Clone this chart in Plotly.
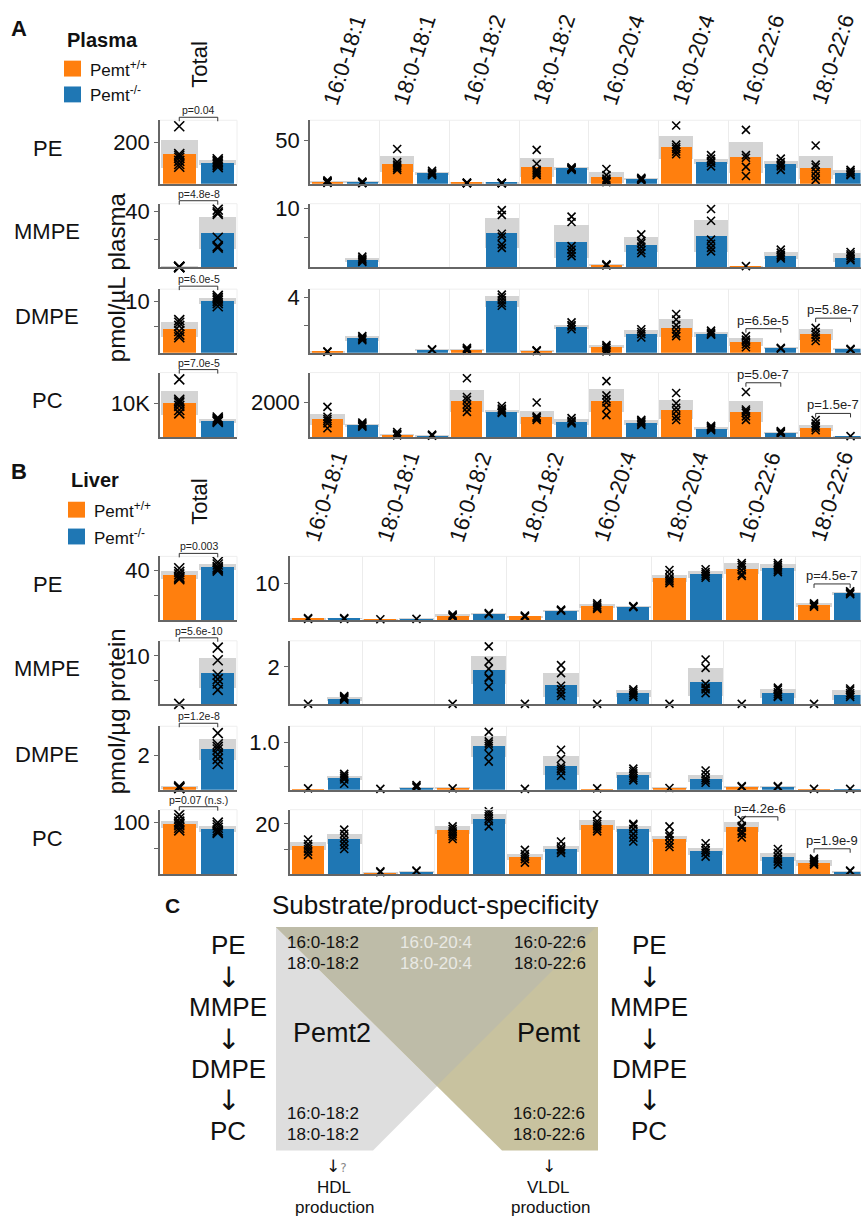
import plotly.graph_objects as go

W, H = 861, 1218
FONT = "Liberation Sans, Arial, Helvetica, sans-serif"
NARROW = "Liberation Sans Narrow, Liberation Sans, Arial, sans-serif"
ARROWFONT = "DejaVu Sans, sans-serif"
ORANGE, BLUE, SDGRAY = "#ff7f0e", "#1f77b4", "#d4d4d4"
AXIS = "#666666"

# ---------------- data ----------------
SPECIES = ["16:0-18:1", "18:0-18:1", "16:0-18:2", "18:0-18:2",
           "16:0-20:4", "18:0-20:4", "16:0-22:6", "18:0-22:6"]
LIPIDS = ["PE", "MMPE", "DMPE", "PC"]
GENOTYPES = ["Pemt<sup>+/+</sup>", "Pemt<sup>-/-</sup>"]

# ---- Panel A: plasma (pmol/uL) ----
A_PE_TOT_MEAN = [144, 101]
A_PE_TOT_SD = [67, 12]
A_PE_TOT_PTS = [[276, 143, 135, 125, 110, 95, 82], [118, 110, 104, 97, 90, 80]]
A_PE_WT_MEAN = [2.3, 22.5, 1.0, 18.7, 7.2, 41.5, 30, 18.3]
A_PE_WT_SD = [1.0, 9.2, 0.5, 11, 6.1, 13, 18, 13.4]
A_PE_KO_MEAN = [1.5, 11.8, 0.8, 17.5, 5.3, 25, 22, 12.6]
A_PE_KO_SD = [0.5, 1.9, 0.3, 1.0, 0.8, 3, 4, 3]
A_PE_WT_PTS = [[4, 3, 2.5, 2, 1.5, 1], [40, 25, 22, 20, 18, 16], [1.5, 1.2, 1, 0.8, 0.6],
               [39, 23, 16, 14, 12, 10], [17, 10, 6, 4, 3, 2], [67, 45, 42, 40, 37, 34],
               [62, 33, 30, 19.5, 9], [44, 22, 19, 14, 9, 4.6]]
A_PE_KO_PTS = [[2.5, 2, 1.5, 1, 0.8], [15, 13, 12, 11, 10], [1.2, 1, 0.8, 0.6],
               [19, 18, 17.5, 17, 16], [7, 6, 5.5, 5, 4], [33, 29, 26, 24, 20],
               [29, 25, 22, 20, 16], [16, 14, 13, 11, 10]]

A_MMPE_TOT_MEAN = [0.3, 24.7]
A_MMPE_TOT_SD = [0.2, 11.3]
A_MMPE_TOT_PTS = [[0.5, 0.3, 0.2, 0.1, 0], [41, 39, 38, 21, 15, 14]]
A_MMPE_WT_MEAN = [0, 0, 0, 0, 0.4, 0, 0.2, 0]
A_MMPE_WT_SD = [0, 0, 0, 0, 0.1, 0, 0.05, 0]
A_MMPE_KO_MEAN = [1.3, 0, 5.9, 4.4, 3.9, 5.4, 2.0, 1.7]
A_MMPE_KO_SD = [0.4, 0, 2.6, 2.8, 1.3, 2.7, 0.6, 0.7]
A_MMPE_WT_PTS = [[], [], [], [], [0.5, 0.4, 0.3], [], [0.2], []]
A_MMPE_KO_PTS = [[1.8, 1.5, 1.3, 1.1, 0.9], [], [9.7, 8.9, 5.7, 5.2, 3.9, 3.3],
                 [8.6, 7.7, 3.6, 3.0, 2.4, 1.9], [5.6, 4.5, 4.1, 3.5, 2.9, 2.4],
                 [9.9, 7.9, 4.7, 4.0, 3.3, 2.7], [3.0, 2.5, 2.1, 1.8, 1.5],
                 [2.6, 2.2, 1.9, 1.5, 1.2]]

A_DMPE_TOT_MEAN = [4.5, 10.0]
A_DMPE_TOT_SD = [1.5, 0.6]
A_DMPE_TOT_PTS = [[6.3, 5.8, 5.2, 4.2, 3.5, 3.0], [11.0, 10.6, 10.3, 10.0, 9.6, 9.0]]
A_DMPE_WT_MEAN = [0.05, 0, 0.19, 0.14, 0.43, 1.79, 0.74, 1.31]
A_DMPE_WT_SD = [0.02, 0, 0.1, 0.03, 0.12, 0.66, 0.29, 0.43]
A_DMPE_KO_MEAN = [1.03, 0.19, 3.7, 1.86, 1.38, 1.31, 0.31, 0.24]
A_DMPE_KO_SD = [0.16, 0.03, 0.4, 0.17, 0.24, 0.19, 0.03, 0.03]
A_DMPE_WT_PTS = [[0.1, 0.05], [], [0.35, 0.25, 0.2, 0.15], [0.18, 0.14, 0.12],
                 [0.55, 0.45, 0.35, 0.2, 0.1], [2.8, 2.4, 2.0, 1.7, 1.4, 1.2],
                 [1.2, 0.95, 0.8, 0.6, 0.4], [1.8, 1.5, 1.3, 1.1, 0.85]]
A_DMPE_KO_PTS = [[1.2, 1.1, 1.0, 0.9], [0.25, 0.2], [4.2, 4.0, 3.8, 3.6, 3.4],
                 [2.2, 2.0, 1.9, 1.7], [1.7, 1.5, 1.35, 1.1], [1.6, 1.45, 1.35, 1.3],
                 [0.35, 0.3], [0.28, 0.22]]

A_PC_TOT_MEAN = [10200, 4900]
A_PC_TOT_SD = [3500, 700]
A_PC_TOT_PTS = [[17000, 11000, 10500, 10000, 9200, 8000, 7000], [5800, 5400, 5000, 4700, 4500]]
A_PC_WT_MEAN = [1046, 171, 2131, 1177, 2131, 1617, 1503, 549]
A_PC_WT_SD = [325, 60, 630, 366, 670, 554, 590, 194]
A_PC_KO_MEAN = [703, 114, 1503, 891, 857, 514, 286, 70]
A_PC_KO_SD = [57, 30, 97, 155, 132, 92, 40, 15]
A_PC_WT_PTS = [[1750, 1177, 1050, 950, 800, 514], [300, 200, 150, 100],
               [3406, 2320, 2150, 1900, 1700, 1463], [2000, 1200, 1150, 1100, 1000],
               [3234, 2417, 2200, 2000, 1700, 1277], [2549, 1960, 1700, 1500, 1200, 989],
               [2606, 1600, 1500, 1400, 1200, 1000], [989, 800, 650, 550, 400]]
A_PC_KO_PTS = [[850, 780, 720, 650, 600], [150, 110, 80], [1800, 1650, 1550, 1450, 1400],
               [1100, 950, 880, 800], [1000, 920, 860, 780, 700], [650, 580, 520, 450, 400],
               [350, 300, 250, 200], [60]]

A_TOT_P = ["p=0.04", "p=4.8e-8", "p=6.0e-5", "p=7.0e-5"]
# (row, species index, label, bracket level in data units)
A_SP_P = [(2, 6, "p=6.5e-5", 1.74), (2, 7, "p=5.8e-7", 2.5),
          (3, 6, "p=5.0e-7", 3143), (3, 7, "p=1.5e-7", 1371)]

# ---- Panel B: liver (pmol/ug protein) ----
B_PE_TOT_MEAN = [36.3, 42.7]
B_PE_TOT_SD = [3.2, 2.8]
B_PE_TOT_PTS = [[42, 39, 37, 35, 34, 33], [47, 45, 43, 42, 41, 40]]
B_PE_WT_MEAN = [0.2, 0.1, 1.0, 0.9, 3.7, 11.2, 13.9, 3.9]
B_PE_WT_SD = [0.1, 0.05, 0.4, 0.2, 0.6, 0.9, 1.5, 0.6]
B_PE_KO_MEAN = [0.3, 0.15, 1.45, 2.4, 3.45, 12.3, 14.1, 7.1]
B_PE_KO_SD = [0.1, 0.05, 0.2, 0.15, 0.3, 0.9, 0.9, 0.4]
B_PE_WT_PTS = [[0.5, 0.3], [0.2], [1.5, 1.2, 1.0, 0.8], [1.2, 1.0, 0.8],
               [4.5, 4.0, 3.6, 3.2, 3.0], [13.6, 12.5, 11.5, 11, 10.5, 10],
               [15.5, 15, 14.4, 13.5, 12.5, 12], [4.5, 4.2, 3.9, 3.6]]
B_PE_KO_PTS = [[0.5, 0.3], [0.3], [1.9, 1.6], [2.8, 2.6, 2.5], [3.8, 3.6, 3.5],
               [13.8, 13, 12.5, 12, 11.5], [15.5, 15, 14.5, 14, 13.5, 13], [7.8, 7.5, 7.2, 7.0]]

B_MMPE_TOT_MEAN = [0, 6.5]
B_MMPE_TOT_SD = [0, 3.1]
B_MMPE_TOT_PTS = [[0.1], [11.7, 9.1, 6.1, 5.2, 4.3, 3.0]]
B_MMPE_WT_MEAN = [0, 0, 0, 0, 0, 0, 0, 0]
B_MMPE_WT_SD = [0, 0, 0, 0, 0, 0, 0, 0]
B_MMPE_KO_MEAN = [0.3, 0, 1.85, 1.05, 0.6, 1.2, 0.6, 0.53]
B_MMPE_KO_SD = [0.1, 0, 0.75, 0.62, 0.2, 0.75, 0.25, 0.27]
B_MMPE_WT_PTS = [[0.03], [], [0.03], [0.03], [0.03], [0.03], [0.03], [0.03]]
B_MMPE_KO_PTS = [[0.45, 0.4, 0.35, 0.3, 0.25], [], [3.1, 2.3, 1.9, 1.45, 1.4, 0.95],
                 [2.1, 1.67, 1.0, 0.8, 0.6, 0.45], [0.8, 0.7, 0.6, 0.5, 0.4],
                 [2.4, 1.95, 1.1, 0.9, 0.8, 0.6], [0.9, 0.8, 0.65, 0.55, 0.45, 0.4],
                 [0.85, 0.75, 0.6, 0.5, 0.4]]

B_DMPE_TOT_MEAN = [0.14, 2.35]
B_DMPE_TOT_SD = [0.05, 0.6]
B_DMPE_TOT_PTS = [[0.2, 0.15, 0.12, 0.1], [3.3, 2.65, 2.5, 2.35, 2.06, 1.8, 1.5]]
B_DMPE_WT_MEAN = [0.01, 0.0, 0.03, 0.0, 0.01, 0.03, 0.056, 0.01]
B_DMPE_WT_SD = [0, 0, 0.01, 0, 0, 0.01, 0.02, 0]
B_DMPE_KO_MEAN = [0.245, 0.04, 0.92, 0.51, 0.31, 0.23, 0.056, 0.01]
B_DMPE_KO_SD = [0.045, 0.01, 0.22, 0.21, 0.07, 0.07, 0.01, 0]
B_DMPE_WT_PTS = [[0.03], [0.02], [0.03], [0.02], [0.03], [0.04], [0.08, 0.06], [0.02]]
B_DMPE_KO_PTS = [[0.34, 0.3, 0.26, 0.22, 0.13], [0.1, 0.07, 0.05],
                 [1.23, 1.03, 0.98, 0.93, 0.76, 0.6], [0.85, 0.66, 0.5, 0.45, 0.4, 0.3],
                 [0.45, 0.4, 0.35, 0.3, 0.25, 0.2], [0.41, 0.33, 0.25, 0.2, 0.15],
                 [0.08, 0.06], [0.02]]

B_PC_TOT_MEAN = [97, 88]
B_PC_TOT_SD = [6, 6]
B_PC_TOT_PTS = [[115, 108, 102, 98, 95, 90, 85], [100, 95, 90, 85, 82, 80]]
B_PC_WT_MEAN = [11.2, 0.8, 17.7, 6.9, 19.5, 14.2, 18.9, 4.6]
B_PC_WT_SD = [1.6, 0.2, 1.5, 1.3, 2.0, 1.2, 1.9, 1.1]
B_PC_KO_MEAN = [14.2, 1.2, 22, 10.3, 18, 9.2, 6.9, 1.1]
B_PC_KO_SD = [2.0, 0.2, 2.0, 1.2, 1.2, 1.3, 1.6, 0.2]
B_PC_WT_PTS = [[13.8, 12, 11, 10, 9, 7.7], [1.2, 0.8], [19, 18, 17, 16, 15, 14],
               [9.7, 8, 7, 6, 4.6], [23.5, 21, 20, 19, 18, 17], [19, 16, 15, 13.5, 12, 10.8],
               [21.5, 19.2, 18.5, 17, 16, 14.6], [6.2, 5.5, 4.8, 4.2, 3.8]]
B_PC_KO_PTS = [[17.7, 16, 14.5, 13, 11.5, 10], [1.5, 1.2], [25, 24, 23, 22, 21, 19],
               [13, 11, 10, 9.5, 8.5], [20, 19.5, 18, 16, 14.5, 13], [12.3, 10.5, 9.5, 8.5, 7],
               [10, 8.5, 7, 6, 5, 3.8], [1.5, 1.2]]

B_TOT_P = ["p=0.003", "p=5.6e-10", "p=1.2e-8", "p=0.07 (n.s.)"]
B_SP_P = [(0, 7, "p=4.5e-7", 9.8), (3, 6, "p=4.2e-6", 22.8), (3, 7, "p=1.9e-9", 10.1)]

# ---------------- axis settings ----------------
A_TOT_YMAX = [305, 45.2, 12.3, 19000]
A_TOT_TICKS = [([200], ["200"]), ([20, 40], ["", "40"]), ([5, 10], ["", "10"]), ([10000], ["10K"])]
A_SP_YMAX = [73, 10.8, 4.6, 3730]
A_SP_TICKS = [([50], ["50"]), ([5, 10], ["", "10"]), ([2, 4], ["", "4"]), ([2000], ["2000"])]
B_TOT_YMAX = [51.6, 13.1, 3.7, 125]
B_TOT_TICKS = [([20, 40], ["", "40"]), ([5, 10], ["", "10"]), ([2], ["2"]), ([50, 100], ["", "100"])]
B_SP_YMAX = [17.3, 3.4, 1.35, 25.6]
B_SP_TICKS = [([10], ["10"]), ([2], ["2"]), ([0.5, 1.0], ["", "1.0"]), ([10, 20], ["", "20"])]

# ---------------- geometry (pixels) ----------------
A_ROWS_PX = [(113, 177), (197, 261), (283, 347), (367, 432)]
B_ROWS_PX = [(552, 616), (637, 701), (723, 787), (807, 872)]
TOT_X_PX = (160, 237)
A_SP_X_PX = (310, 861)
B_SP_X_PX = (290, 861)
SP_XMAX = 7.4

fig = go.Figure()
axes = {}
anns = []
shapes = []
counter = [0]


def pyp(py):
    return 1 - py / H


def pxp(px):
    return px / W


def new_axes(xpx, ypx, xrange, ymax, ticks, gridvals):
    counter[0] += 1
    n = counter[0]
    sx = "" if n == 1 else str(n)
    xname, yname = "x" + sx, "y" + sx
    axes["xaxis" + sx] = dict(domain=[pxp(xpx[0]), pxp(xpx[1])], anchor=yname, range=xrange,
                              showticklabels=False, ticks="", showline=True, linecolor=AXIS,
                              linewidth=1.5, showgrid=bool(gridvals), tickvals=gridvals,
                              gridcolor="#ececec", gridwidth=1, zeroline=False, fixedrange=True)
    axes["yaxis" + sx] = dict(domain=[pyp(ypx[1]), pyp(ypx[0])], anchor=xname, range=[0, ymax],
                              tickvals=ticks[0], ticktext=ticks[1], ticks="outside", ticklen=4,
                              tickcolor=AXIS, tickwidth=1.2, showline=True, linecolor=AXIS,
                              linewidth=1.5, showgrid=False, zeroline=False,
                              tickfont=dict(size=22, color="#111", family=FONT), fixedrange=True)
    shapes.append(dict(type="line", xref=xname + " domain", yref=yname + " domain",
                       x0=0, x1=1, y0=1, y1=1, line=dict(color="#eeeeee", width=1)))
    shapes.append(dict(type="line", xref=xname + " domain", yref=yname + " domain",
                       x0=1, x1=1, y0=0, y1=1, line=dict(color="#eeeeee", width=1)))
    return xname, yname


def add_group(xname, yname, xs, means, sds, pts, color, barw, grayw, msize):
    base = [max(m - s, 0) for m, s in zip(means, sds)]
    hgt = [m + s - b for m, s, b in zip(means, sds, base)]
    fig.add_trace(go.Bar(x=xs, y=hgt, base=base, width=grayw,
                         marker=dict(color=SDGRAY, line=dict(width=0)),
                         xaxis=xname, yaxis=yname, showlegend=False, hoverinfo="skip"))
    fig.add_trace(go.Bar(x=xs, y=means, width=barw, marker=dict(color=color, line=dict(width=0)),
                         xaxis=xname, yaxis=yname, showlegend=False))
    ptx, pty = [], []
    for x, p in zip(xs, pts):
        ptx += [x] * len(p)
        pty += list(p)
    fig.add_trace(go.Scatter(x=ptx, y=pty, mode="markers", cliponaxis=False,
                             marker=dict(symbol="x-thin", size=msize, color="black",
                                         line=dict(width=1.6, color="black")),
                             xaxis=xname, yaxis=yname, showlegend=False))


def bracket(xname, x0, x1, py_line, text, fsize, py_text):
    for seg in [(x0, x1, py_line, py_line), (x0, x0, py_line, py_line + 4), (x1, x1, py_line, py_line + 4)]:
        shapes.append(dict(type="line", xref=xname, yref="paper", x0=seg[0], x1=seg[1],
                           y0=pyp(seg[2]), y1=pyp(seg[3]), line=dict(color="#333", width=1)))
    anns.append(dict(xref=xname, yref="paper", x=(x0 + x1) / 2, y=pyp(py_text), text=text,
                     showarrow=False, xanchor="center", yanchor="middle",
                     font=dict(size=fsize, family=NARROW, color="#222")))


def build_panel(rows_px, sp_x_px, tot_data, sp_data, tot_ymax, tot_ticks, sp_ymax, sp_ticks, tot_p, sp_p):
    first_sp_x = None
    for r in range(4):
        ypx = rows_px[r]
        xn, yn = new_axes(TOT_X_PX, ypx, [-0.5, 1.5], tot_ymax[r], tot_ticks[r], [])
        tm, tsd, tpts = tot_data[r]
        add_group(xn, yn, [0], [tm[0]], [tsd[0]], [tpts[0]], ORANGE, 0.86, 0.96, 10)
        add_group(xn, yn, [1], [tm[1]], [tsd[1]], [tpts[1]], BLUE, 0.86, 0.96, 10)
        bracket(xn, 0, 1, ypx[0] - 3, tot_p[r], 10.5, ypx[0] - 10)
        grid = [i + 0.5 for i in range(len(SPECIES))]
        xn2, yn2 = new_axes(sp_x_px, ypx, [-0.5, SP_XMAX], sp_ymax[r], sp_ticks[r], grid)
        if first_sp_x is None:
            first_sp_x = xn2
        wm, wsd, km, ksd, wp, kp = sp_data[r]
        xs_w = [i - 0.25 for i in range(len(SPECIES))]
        xs_k = [i + 0.25 for i in range(len(SPECIES))]
        add_group(xn2, yn2, xs_w, wm, wsd, wp, ORANGE, 0.445, 0.49, 8)
        add_group(xn2, yn2, xs_k, km, ksd, kp, BLUE, 0.445, 0.49, 8)
        for (rr, si, txt, lvl) in sp_p:
            if rr == r:
                py_line = ypx[1] - lvl / sp_ymax[r] * (ypx[1] - ypx[0])
                bracket(xn2, si - 0.25, si + 0.25, py_line, txt, 13, py_line - 8.5)
        anns.append(dict(xref="paper", yref="paper", x=pxp(47), y=pyp((ypx[0] + ypx[1]) / 2 - 4),
                         text=LIPIDS[r], showarrow=False, xanchor="center", yanchor="middle",
                         font=dict(size=22, family=FONT, color="#111")))
    return first_sp_x


A_TOT = [(A_PE_TOT_MEAN, A_PE_TOT_SD, A_PE_TOT_PTS), (A_MMPE_TOT_MEAN, A_MMPE_TOT_SD, A_MMPE_TOT_PTS),
         (A_DMPE_TOT_MEAN, A_DMPE_TOT_SD, A_DMPE_TOT_PTS), (A_PC_TOT_MEAN, A_PC_TOT_SD, A_PC_TOT_PTS)]
A_SP = [(A_PE_WT_MEAN, A_PE_WT_SD, A_PE_KO_MEAN, A_PE_KO_SD, A_PE_WT_PTS, A_PE_KO_PTS),
        (A_MMPE_WT_MEAN, A_MMPE_WT_SD, A_MMPE_KO_MEAN, A_MMPE_KO_SD, A_MMPE_WT_PTS, A_MMPE_KO_PTS),
        (A_DMPE_WT_MEAN, A_DMPE_WT_SD, A_DMPE_KO_MEAN, A_DMPE_KO_SD, A_DMPE_WT_PTS, A_DMPE_KO_PTS),
        (A_PC_WT_MEAN, A_PC_WT_SD, A_PC_KO_MEAN, A_PC_KO_SD, A_PC_WT_PTS, A_PC_KO_PTS)]
B_TOT = [(B_PE_TOT_MEAN, B_PE_TOT_SD, B_PE_TOT_PTS), (B_MMPE_TOT_MEAN, B_MMPE_TOT_SD, B_MMPE_TOT_PTS),
         (B_DMPE_TOT_MEAN, B_DMPE_TOT_SD, B_DMPE_TOT_PTS), (B_PC_TOT_MEAN, B_PC_TOT_SD, B_PC_TOT_PTS)]
B_SP = [(B_PE_WT_MEAN, B_PE_WT_SD, B_PE_KO_MEAN, B_PE_KO_SD, B_PE_WT_PTS, B_PE_KO_PTS),
        (B_MMPE_WT_MEAN, B_MMPE_WT_SD, B_MMPE_KO_MEAN, B_MMPE_KO_SD, B_MMPE_WT_PTS, B_MMPE_KO_PTS),
        (B_DMPE_WT_MEAN, B_DMPE_WT_SD, B_DMPE_KO_MEAN, B_DMPE_KO_SD, B_DMPE_WT_PTS, B_DMPE_KO_PTS),
        (B_PC_WT_MEAN, B_PC_WT_SD, B_PC_KO_MEAN, B_PC_KO_SD, B_PC_WT_PTS, B_PC_KO_PTS)]

ax_a = build_panel(A_ROWS_PX, A_SP_X_PX, A_TOT, A_SP, A_TOT_YMAX, A_TOT_TICKS, A_SP_YMAX, A_SP_TICKS, A_TOT_P, A_SP_P)
ax_b = build_panel(B_ROWS_PX, B_SP_X_PX, B_TOT, B_SP, B_TOT_YMAX, B_TOT_TICKS, B_SP_YMAX, B_SP_TICKS, B_TOT_P, B_SP_P)


def text(px, py, s, size, bold=False, color="#111", angle=0, xanchor="center", family=FONT):
    anns.append(dict(xref="paper", yref="paper", x=pxp(px), y=pyp(py),
                     text=("<b>%s</b>" % s) if bold else s, showarrow=False, textangle=angle,
                     xanchor=xanchor, yanchor="middle", font=dict(size=size, family=family, color=color)))


def rect(x0, y0, x1, y1, color):
    shapes.append(dict(type="rect", xref="paper", yref="paper", x0=pxp(x0), x1=pxp(x1),
                       y0=pyp(y1), y1=pyp(y0), fillcolor=color, line=dict(width=0)))


for (lab, ttl, ylab, yl_c, hy, ly, sqx, sqy, axn) in [
        ("A", "Plasma", "pmol/µL plasma", 271, 55, (21, 32), 64, (53, 79), ax_a),
        ("B", "Liver", "pmol/µg protein", 708, 495, (467, 475), 68, (497, 524), ax_b)]:
    text(9, ly[0], lab, 22, bold=True, xanchor="left")
    text(sqx + 1, ly[1], ttl, 20, bold=True, xanchor="left")
    rect(sqx, sqy[0], sqx + 17, sqy[0] + 16, ORANGE)
    rect(sqx, sqy[1], sqx + 17, sqy[1] + 16, BLUE)
    text(sqx + 24, sqy[0] + 8, GENOTYPES[0], 17, xanchor="left")
    text(sqx + 24, sqy[1] + 8, GENOTYPES[1], 17, xanchor="left")
    text(200, hy + 2, "Total", 22, angle=-90)
    text(116, yl_c, ylab, 24, angle=-90)
    for i, sp in enumerate(SPECIES):
        anns.append(dict(xref=axn, yref="paper", x=i, y=pyp(hy - 3), text=sp, showarrow=False,
                         textangle=-72, xanchor="center", yanchor="middle",
                         font=dict(size=22, family=FONT, color="#111")))

# ---------------- panel C (schematic) ----------------
def path(pts):
    return "M " + " L ".join("%.5f,%.5f" % (pxp(x), pyp(y)) for x, y in pts) + " Z"


shapes.append(dict(type="path", xref="paper", yref="paper", layer="below",
                   path=path([(276, 925), (596, 925), (373, 1150), (276, 1150)]),
                   fillcolor="#dedede", line=dict(width=0)))
shapes.append(dict(type="path", xref="paper", yref="paper", layer="below",
                   path=path([(276, 925), (598, 925), (598, 1150), (502, 1150)]),
                   fillcolor="#c8c29f", line=dict(width=0)))
shapes.append(dict(type="path", xref="paper", yref="paper", layer="below",
                   path=path([(276, 925), (596, 925), (437, 1085)]),
                   fillcolor="#bebca8", line=dict(width=0)))

text(172, 903, "C", 21, bold=True)
text(436, 903, "Substrate/product-specificity", 26)
for cx in (228, 649):
    for s, yy in [("PE", 943), ("MMPE", 1006), ("DMPE", 1068), ("PC", 1130)]:
        text(cx, yy, s, 26)
    for yy in (976, 1038, 1100):
        text(cx, yy, "↓", 28, family=ARROWFONT)
for cx, l1, l2, col in [(323, "16:0-18:2", "18:0-18:2", "#111"), (436, "16:0-20:4", "18:0-20:4", "#e9e9e4"),
                        (550, "16:0-22:6", "18:0-22:6", "#111")]:
    text(cx, 941, l1, 17, color=col)
    text(cx, 962, l2, 17, color=col)
for cx, l1, l2 in [(323, "16:0-18:2", "18:0-18:2"), (549, "16:0-22:6", "18:0-22:6")]:
    text(cx, 1113, l1, 17)
    text(cx, 1134, l2, 17)
text(332, 1032, "Pemt2", 27)
text(549, 1032, "Pemt", 27)
text(336, 1166, "↓<span style='color:#888;font-size:12px'>?</span>", 17, family=ARROWFONT)
text(334, 1187, "HDL", 17)
text(334, 1207, "production", 17)
text(549, 1166, "↓", 17, family=ARROWFONT)
text(548, 1187, "VLDL", 17)
text(550, 1207, "production", 17)

fig.update_layout(width=W, height=H, autosize=False, margin=dict(l=0, r=0, t=0, b=0),
                  paper_bgcolor="white", plot_bgcolor="white", barmode="overlay", bargap=0,
                  showlegend=False, font=dict(family=FONT, color="#111"),
                  annotations=anns, shapes=shapes, **axes)
fig.write_html("out.html", config={"displayModeBar": False},
               post_script="document.body.style.margin='0';document.body.style.overflow='hidden';")
